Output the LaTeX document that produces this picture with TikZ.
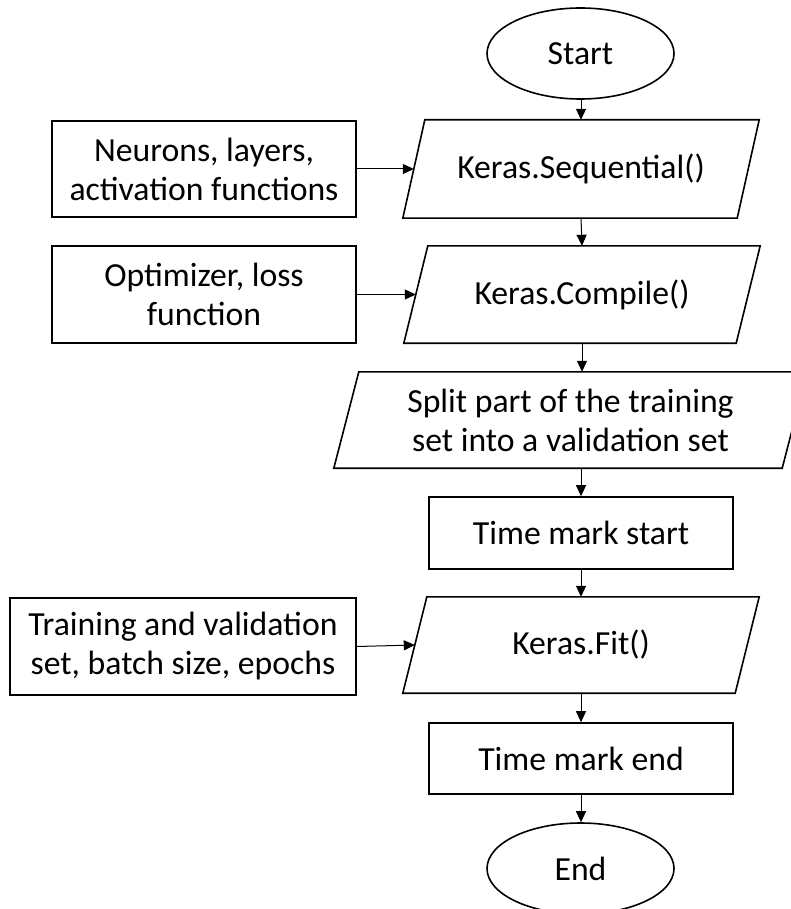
\documentclass[tikz,border=0pt]{standalone}
\usepackage{fontspec}
\setmainfont{Carlito}
\usetikzlibrary{arrows.meta,shapes.geometric}
\newcommand{\paradraw}[2]{\draw[paraline] ([xshift=#2]#1.north west) -- ([xshift=#2]#1.north east) -- ([xshift=-#2]#1.south east) -- ([xshift=-#2]#1.south west) -- cycle;}
\begin{document}
\begin{tikzpicture}[x=1pt,y=-1pt,
  every node/.style={font=\fontsize{33.7}{39}\selectfont, align=center, inner sep=0pt},
  box/.style={draw, rectangle, line width=1.6pt},
  term/.style={draw, ellipse, line width=1.6pt, minimum width=187pt, minimum height=91pt},
  iobox/.style={rectangle},
  paraline/.style={line width=1.6pt, line join=miter},
  conn/.style={-{Triangle[length=11pt,width=10pt]}, line width=1pt}]
\useasboundingbox (0,0) rectangle (790,909);
\fill[white] (0,0) rectangle (790,909);

\node[term] (start) at (580.5,53.5) {Start};
\node[iobox, minimum width=334pt, minimum height=98pt] (seq) at (581,169) {Keras.Sequential()};
\node[box, minimum width=304pt, minimum height=96pt] (neur) at (204,169) {Neurons, layers,\\activation functions};
\node[iobox, minimum width=332pt, minimum height=97pt] (comp) at (582,294.5) {Keras.Compile()};
\node[box, minimum width=304pt, minimum height=97pt] (opt) at (204,294.5) {Optimizer, loss\\function};
\node[iobox, minimum width=448pt, minimum height=96pt] (split) at (570.5,420) {Split part of the training\\set into a validation set};
\node[box, minimum width=304pt, minimum height=72pt] (tms) at (581,533) {Time mark start};
\node[iobox, minimum width=332pt, minimum height=96pt] (fit) at (581,645) {Keras.Fit()};
\node[box, minimum width=346pt, minimum height=97pt] (train) at (183,646.5) {Training and validation\\set, batch size, epochs};
\node[box, minimum width=304pt, minimum height=71pt] (tme) at (581,758.5) {Time mark end};
\node[term] (end) at (580.5,868.5) {End};

\paradraw{seq}{11}
\paradraw{comp}{12}
\paradraw{split}{12.5}
\paradraw{fit}{12}

\draw[conn] (start.south -| seq.north) -- (seq.north);
\draw[conn] (seq.south) -- (comp.north);
\draw[conn] (comp.south) -- (comp.south |- split.north);
\draw[conn] (split.south -| tms.north) -- (tms.north);
\draw[conn] (tms.south) -- (fit.north);
\draw[conn] (fit.south) -- (tme.north);
\draw[conn] (tme.south) -- (tme.south |- end.north);
\draw[conn] (neur.east) -- (seq.west);
\draw[conn] (opt.east) -- (comp.west);
\draw[conn] (train.east) -- (fit.west);
\end{tikzpicture}
\end{document}
